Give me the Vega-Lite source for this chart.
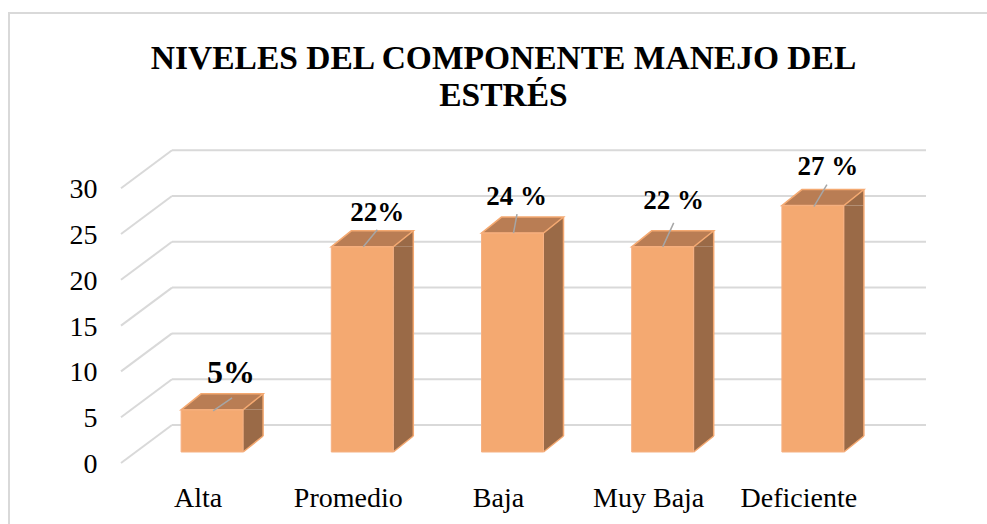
{
"$schema":"https://vega.github.io/schema/vega-lite/v6.json",
"width":979,"height":512,
"autosize":"none",
"padding":{"left":9,"top":13,"right":0,"bottom":0},
"background":"white",
"view":{"stroke":"#D9D9D9","strokeWidth":2,"fill":"white"},
"title":{"text":["NIVELES DEL COMPONENTE MANEJO DEL","ESTRÉS"],"anchor":"middle","frame":"group","dx":5,"offset":-100,"font":"Liberation Serif","fontSize":33.5,"fontWeight":"bold","color":"black","lineHeight":37},
"datasets":{
"niveles":[
{"nivel":"Alta","valor":4.6,"etiqueta":"5%"},
{"nivel":"Promedio","valor":22.4,"etiqueta":"22%"},
{"nivel":"Baja","valor":23.9,"etiqueta":"24 %"},
{"nivel":"Muy Baja","valor":22.4,"etiqueta":"22 %"},
{"nivel":"Deficiente","valor":26.9,"etiqueta":"27 %"}],
"marcas":[{"t":0},{"t":5},{"t":10},{"t":15},{"t":20},{"t":25},{"t":30}]
},
"data":{"name":"niveles"},
"encoding":{
"x":{"field":"nivel","type":"nominal","sort":null,"title":null,
"scale":{"type":"band","range":[128,879],"paddingInner":0,"paddingOuter":0},
"axis":{"orient":"bottom","offset":-19,"domain":false,"ticks":false,"grid":false,"labelAngle":0,"labelOffset":-14,"labelPadding":0,"labelBaseline":"alphabetic","labelFont":"Liberation Serif","labelFontSize":28,"labelColor":"black"}}
},
"layer":[
{"data":{"name":"marcas"},
"mark":{"type":"rule","stroke":"#D9D9D9","strokeWidth":2,"yOffset":-27},
"encoding":{"x":{"value":163},"x2":{"value":917},
"y":{"field":"t","type":"quantitative","title":null,
"scale":{"domain":[0,30],"range":[439,164.2],"nice":false,"zero":false},
"axis":{"orient":"left","offset":-88,"values":[0,5,10,15,20,25,30],"domain":false,"ticks":false,"grid":false,"labelPadding":0,"labelOffset":12.5,"labelFont":"Liberation Serif","labelFontSize":28,"labelColor":"black"}}}},
{"data":{"name":"marcas"},
"mark":{"type":"rule","stroke":"#D9D9D9","strokeWidth":2,"yOffset":11,"y2Offset":-27},
"encoding":{"x":{"value":112},"x2":{"value":163},
"y":{"field":"t","type":"quantitative"},"y2":{"field":"t"}}},
{"mark":{"type":"bar","size":20,"xOffset":41,"y2Offset":-16,"fill":"#9A6A47"},
"encoding":{"y":{"field":"valor","type":"quantitative"},"y2":{"datum":0}}},
{"mark":{"type":"point","filled":true,"opacity":1,"size":4,"fill":"#9A6A47","stroke":null,"shape":"M31,0 L51,-16 L51,0 Z"},
"encoding":{"y":{"field":"valor","type":"quantitative"}}},
{"mark":{"type":"point","filled":true,"opacity":1,"size":4,"fill":"#9A6A47","stroke":null,"shape":"M31,0 L31,-16 L51,-16 Z"},
"encoding":{"y":{"datum":0,"type":"quantitative"}}},
{"mark":{"type":"point","filled":false,"opacity":1,"size":4,"stroke":"#F4A971","strokeWidth":1.5,"shape":"M31,0 L51,-16 L51,-16"},
"encoding":{"y":{"datum":0,"type":"quantitative"}}},
{"mark":{"type":"rule","stroke":"#F4A971","strokeWidth":1.5,"xOffset":51,"yOffset":-16,"y2Offset":-16},
"encoding":{"y":{"field":"valor","type":"quantitative"},"y2":{"datum":0}}},
{"mark":{"type":"point","filled":true,"opacity":1,"size":4,"fill":"#B97D54","stroke":"#F4A971","strokeWidth":1.5,"shape":"M-31,0 L-11,-16 L51,-16 L31,0 Z"},
"encoding":{"y":{"field":"valor","type":"quantitative"}}},
{"mark":{"type":"bar","size":62,"fill":"#F4A971","stroke":"#F6B183","strokeWidth":1},
"encoding":{"y":{"field":"valor","type":"quantitative"},"y2":{"datum":0}}},
{"mark":{"type":"point","filled":false,"opacity":1,"size":4,"stroke":"#A6A6A6","strokeWidth":1.5},
"encoding":{"y":{"field":"valor","type":"quantitative"},
"shape":{"field":"nivel","type":"nominal","legend":null,
"scale":{"domain":["Alta","Promedio","Baja","Muy Baja","Deficiente"],
"range":["M1,1 L20,-12","M1,0 L15,-17","M1,0 L4.5,-19","M0,0 L11,-24","M1,1 L14,-21"]}}}},
{"transform":[{"filter":"datum.nivel=='Alta'"}],
"mark":{"type":"text","font":"Liberation Serif","fontWeight":"bold","fontSize":32,"color":"black","align":"center","baseline":"alphabetic","dx":19,"dy":-27},
"encoding":{"y":{"field":"valor","type":"quantitative"},"text":{"field":"etiqueta"}}},
{"transform":[{"filter":"datum.nivel=='Promedio'"}],
"mark":{"type":"text","font":"Liberation Serif","fontWeight":"bold","fontSize":27,"color":"black","align":"center","baseline":"alphabetic","dx":15,"dy":-26},
"encoding":{"y":{"field":"valor","type":"quantitative"},"text":{"field":"etiqueta"}}},
{"transform":[{"filter":"datum.nivel=='Baja'"}],
"mark":{"type":"text","font":"Liberation Serif","fontWeight":"bold","fontSize":27,"color":"black","align":"center","baseline":"alphabetic","dx":4,"dy":-28},
"encoding":{"y":{"field":"valor","type":"quantitative"},"text":{"field":"etiqueta"}}},
{"transform":[{"filter":"datum.nivel=='Muy Baja'"}],
"mark":{"type":"text","font":"Liberation Serif","fontWeight":"bold","fontSize":27,"color":"black","align":"center","baseline":"alphabetic","dx":11,"dy":-38},
"encoding":{"y":{"field":"valor","type":"quantitative"},"text":{"field":"etiqueta"}}},
{"transform":[{"filter":"datum.nivel=='Deficiente'"}],
"mark":{"type":"text","font":"Liberation Serif","fontWeight":"bold","fontSize":27,"color":"black","align":"center","baseline":"alphabetic","dx":15,"dy":-31},
"encoding":{"y":{"field":"valor","type":"quantitative"},"text":{"field":"etiqueta"}}}
]
}
